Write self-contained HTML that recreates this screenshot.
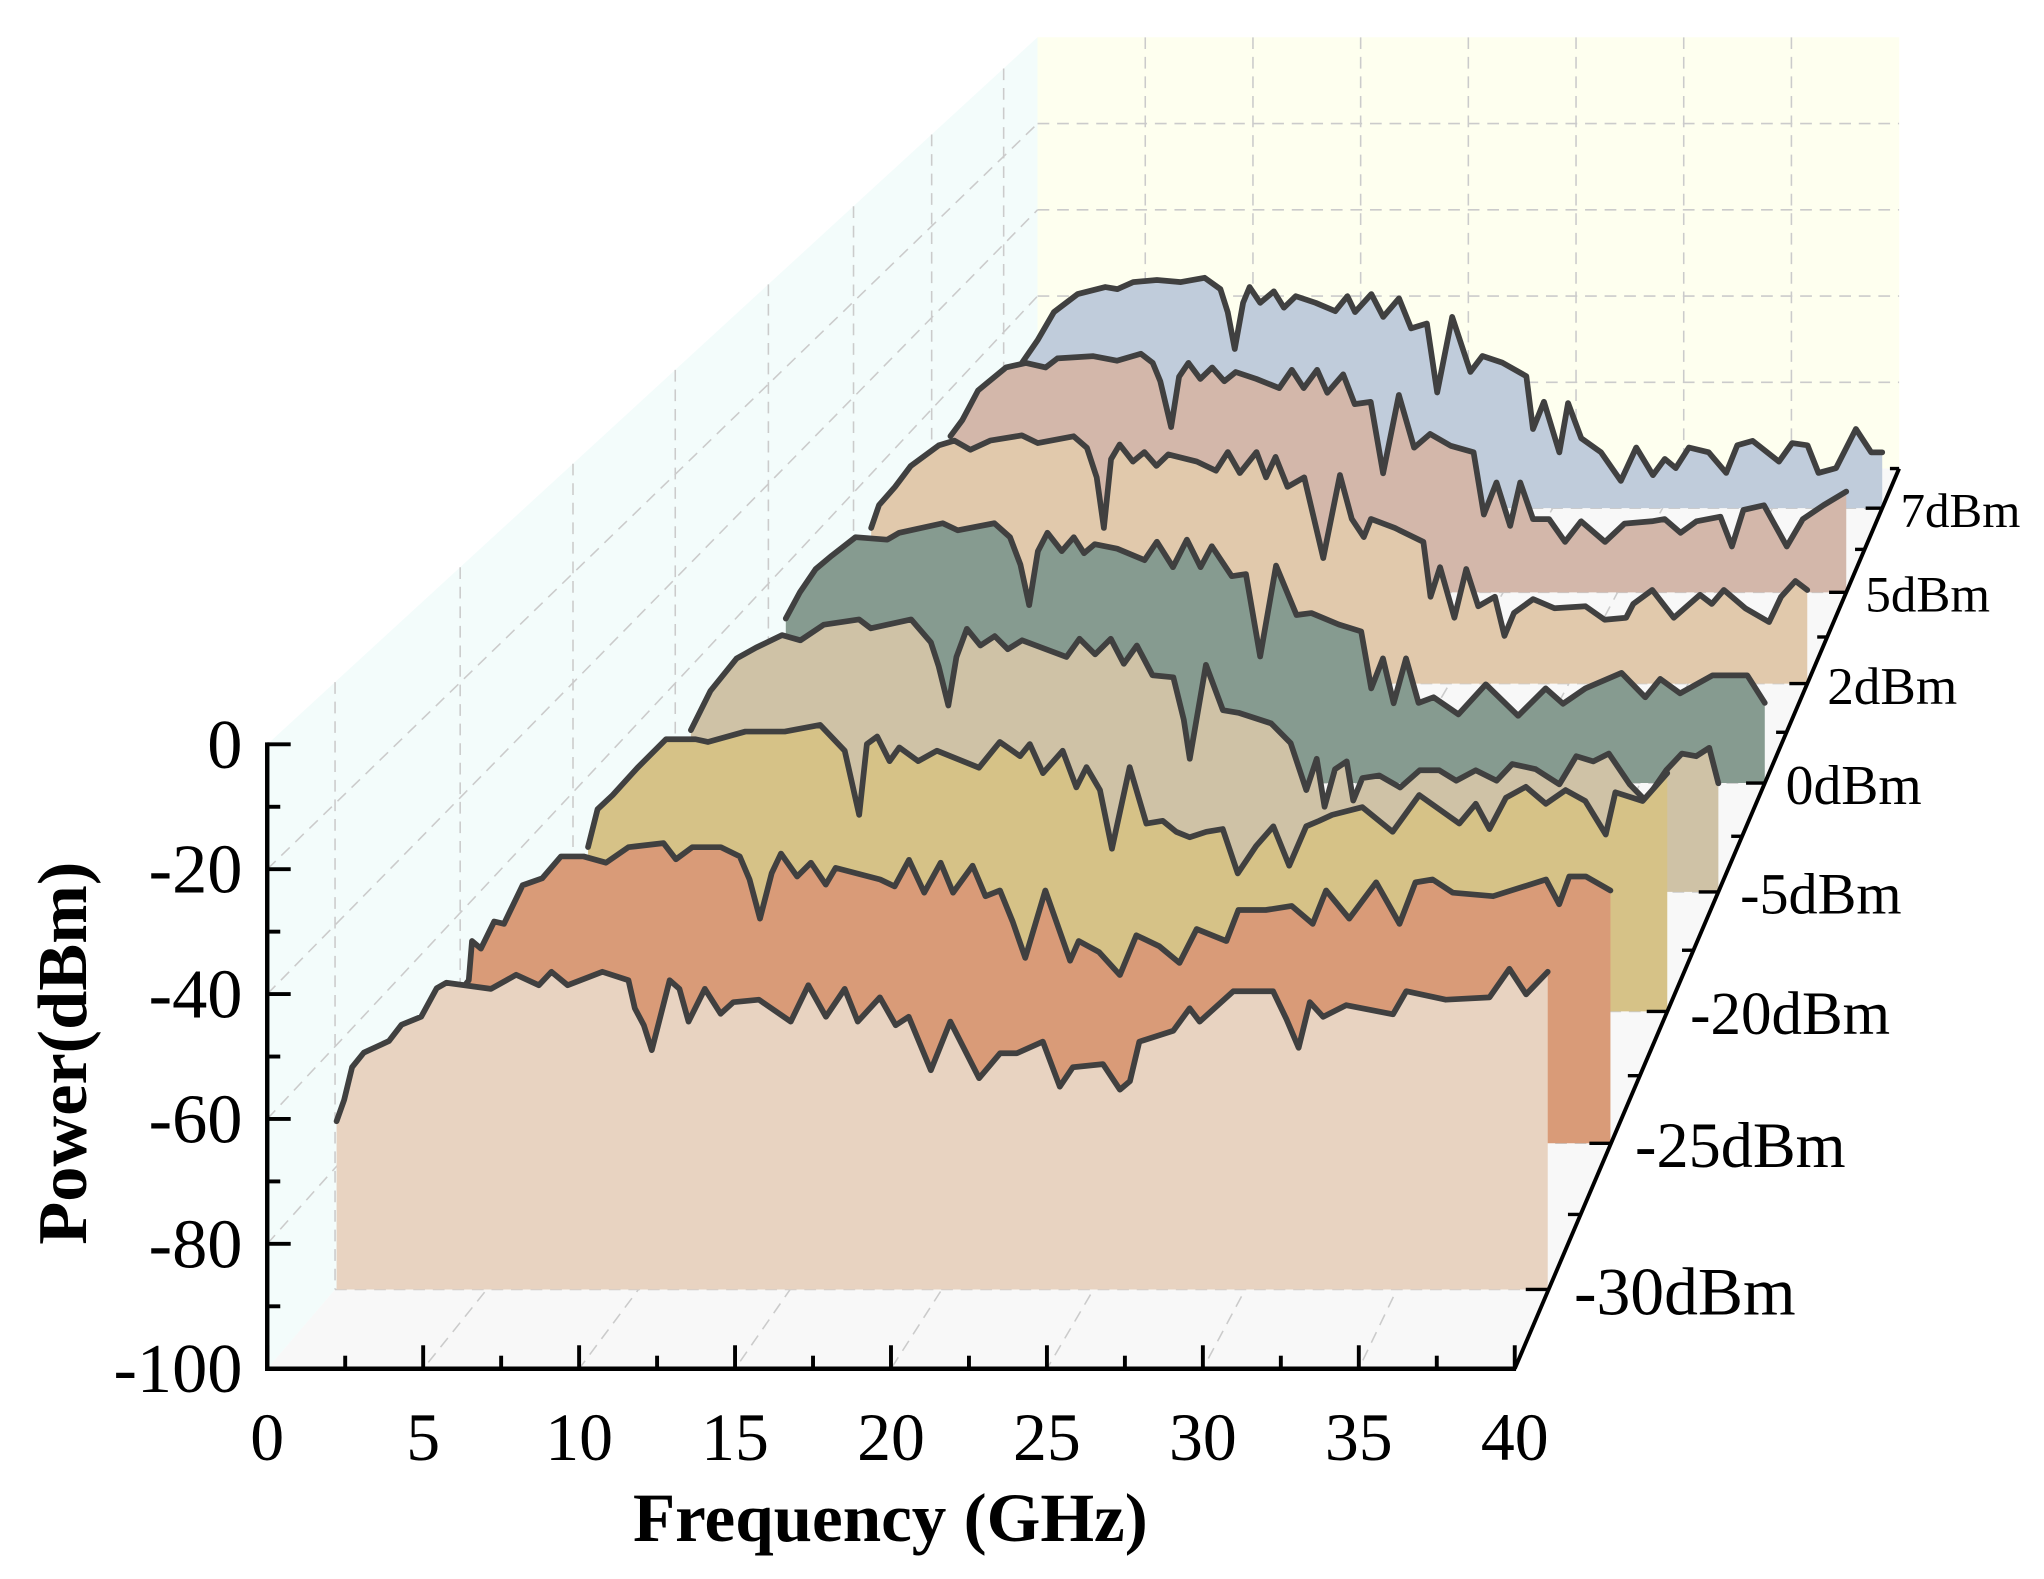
<!DOCTYPE html>
<html lang="en">
<head>
<meta charset="utf-8">
<title>Power spectra waterfall chart</title>
<style>
html,body{margin:0;padding:0;background:#fff}
svg{display:block}
text{font-family:"Liberation Serif",serif;fill:#000}
</style>
</head>
<body>
<svg id="chart" xmlns="http://www.w3.org/2000/svg" width="2044" height="1579" viewBox="0 0 1568 1211.3" preserveAspectRatio="none">
  <text x="683" y="1182" text-anchor="middle" font-size="53" font-weight="bold">Frequency (GHz)</text>
  <text transform="translate(66,808) rotate(-90)" text-anchor="middle" font-size="54" font-weight="bold">Power(dBm)</text>
</svg>
<script>
const seriesLabels = ['-30dBm','-25dBm','-20dBm','-5dBm','0dBm','2dBm','5dBm','7dBm'];
const xTickLabels = [0,5,10,15,20,25,30,35,40];
const xMinorTicks = [2.5,7.5,12.5,17.5,22.5,27.5,32.5,37.5];
const yTickLabels = [0,-20,-40,-60,-80,-100];
const yMinorTicks = [-10,-30,-50,-70,-90];

const freqM30 = [0.05,0.3,0.56,0.95,1.78,2.19,2.84,3.35,3.67,5.14,5.97,6.72,7.13,7.67,8.81,9.67,9.88,10.18,10.44,11.03,11.35,11.65,12.19,12.71,13.13,13.97,15.02,15.6,16.18,16.8,17.23,17.96,18.48,18.91,19.64,20.28,21.23,21.92,22.47,23.33,23.89,24.32,25.31,25.87,26.2,26.51,27.63,28.17,28.5,29.61,30.92,31.36,31.76,32.13,32.57,33.33,34.87,35.31,36.61,38.05,38.71,39.26,39.97];
const powerM30 = [-72.3,-68.8,-63.4,-61,-59.1,-56.4,-55.1,-50.4,-49.5,-50.5,-48.2,-49.9,-47.7,-49.9,-47.7,-49.1,-53.7,-56.5,-60.6,-49.1,-50.5,-55.9,-50.5,-54.6,-52.7,-52.3,-55.9,-49.9,-55.1,-50.5,-55.9,-51.9,-56.5,-55.1,-63.9,-55.9,-65.2,-61.1,-61.1,-59.2,-66.6,-63.4,-62.9,-67.1,-65.7,-59.2,-57.4,-53.7,-55.9,-50.9,-50.9,-55.5,-60.2,-52.7,-55.1,-53.2,-54.7,-50.9,-52.3,-51.9,-47.2,-51.4,-47.7];

const freqM25 = [0.1,0.3,0.41,0.72,1.18,1.52,2.17,2.85,3.5,4.29,5.07,5.85,7.07,7.5,8.07,9.06,9.72,10.06,10.42,10.83,11.15,11.71,12.19,12.71,13.05,14.6,15.1,15.6,16.13,16.7,17.13,17.81,18.26,18.76,19.2,19.64,20.34,21.2,21.5,22.2,22.93,23.5,24.3,25,25.6,26.63,27.05,28,28.9,29.63,30.1,30.9,31.84,32.65,33.2,33.8,34.5,35.9,37.74,38.2,38.55,39.13,39.98];
const powerM25 = [-73,-71.7,-64.9,-66.2,-61.5,-61.9,-55.2,-54,-50.2,-50.2,-51.3,-48.6,-47.9,-50.7,-48.6,-48.6,-50.2,-54.2,-61,-53.1,-49.7,-53.7,-51.3,-55.1,-52.2,-54.2,-55.4,-50.8,-56.5,-51.3,-56.5,-51.8,-57.1,-56.1,-61.5,-67.8,-56.1,-68.3,-64.9,-66.8,-70.8,-63.9,-65.8,-68.7,-62.8,-64.9,-59.5,-59.5,-58.8,-61.9,-56.1,-61,-54.7,-61.9,-54.7,-54.2,-56.5,-57.1,-54.2,-58.5,-53.7,-53.7,-56.1];

const freqM20 = [0.55,0.9,1.45,2.36,3.4,4.48,4.93,6.3,7.74,9.03,9.93,10.46,10.74,11.12,11.57,11.93,12.62,13.3,14.84,15.6,16.34,16.7,17.18,17.9,18.4,18.77,19.26,19.7,20.35,20.96,21.56,22.05,22.54,23.15,23.75,24.3,24.97,25.6,26.18,26.8,27.27,27.75,28.85,29.96,30.93,32.4,33,33.5,34.1,34.83,35.56,36.28,37,37.75,38.1,39.1,40];
const powerM20 = [-70,-63.1,-60.5,-55.5,-50.3,-50.3,-50.8,-48.9,-48.9,-47.7,-52.4,-64.1,-51.2,-49.8,-54.3,-51.8,-54.3,-52.4,-55.5,-50.8,-53.4,-51.2,-56.5,-52.4,-59.1,-55.4,-59.6,-70.3,-55.4,-65.7,-65.2,-67.2,-68.2,-67.2,-66.7,-74.8,-69.8,-66.2,-73.4,-66.2,-65.2,-64.1,-62.7,-67.2,-60.5,-65.7,-62.1,-66.7,-61,-59,-62.1,-59.6,-61.6,-67.7,-60,-61.6,-56.5];

const freqM5 = [0.6,1.35,2.35,3.1,4.1,4.8,5.7,7.05,7.5,9.05,9.8,10.1,10.47,10.78,11.18,11.7,12.25,12.75,13.3,15,15.5,16.1,16.7,17.2,17.7,18.3,19.1,19.5,19.73,20.35,21,21.6,22.85,23.6,24.2,24.6,24.9,25.3,25.75,26,26.35,27,27.8,28.55,29.3,29.95,30.7,31.5,32.1,33,33.9,34.55,35.2,35.8,36.6,37.2,38,38.6,39.15,39.65,40];
const powerM5 = [-69,-61.5,-55.3,-53.2,-50.8,-51.8,-48.8,-47.8,-49.5,-47.8,-52.2,-56.8,-64.3,-55,-49.6,-52.8,-51,-53.5,-51.8,-55,-51.5,-54.5,-51.5,-56.3,-52.8,-58.5,-58.9,-67,-74.5,-56.5,-65.2,-65.7,-67.7,-71.5,-80.5,-74.5,-83.7,-76.5,-75,-82.5,-78.2,-77.7,-80,-76.7,-76.7,-78.7,-76.7,-78.7,-75.5,-76.5,-79.4,-74,-75,-73.5,-79.4,-82.5,-76.7,-73.5,-74,-72.4,-79.2];

const freqP0 = [0.7,1.27,1.9,2.54,3.5,4.77,5.25,7,7.6,9.07,9.7,10.12,10.47,10.82,11.2,11.78,12.26,12.67,13.1,14,15.1,15.6,16.24,16.8,17.35,17.8,18.6,19.17,19.74,20.38,21.2,21.8,22.9,23.8,24.2,24.67,25.1,25.6,26.1,26.7,27.7,28.8,30.1,31.2,31.9,32.8,34.25,35.2,35.8,36.6,37.9,39.3,40];
const powerP0 = [-67,-61.7,-57.1,-54.4,-50.7,-51.2,-49.8,-47.9,-49.3,-47.9,-50.7,-56.2,-64.3,-53.5,-49.8,-53.5,-50.7,-53.9,-52.1,-53,-55.3,-51.6,-56.7,-51.2,-56.7,-52.5,-58.5,-58.1,-74.6,-56.4,-66.3,-65.9,-68.2,-69.6,-81,-75,-84,-75,-83.9,-82.8,-86.2,-80.2,-86.5,-81,-84.1,-81,-77.9,-82.8,-79.1,-82,-78.4,-78.4,-83.9];

const freqP2 = [0.74,1.07,1.74,2.4,3.57,4.23,4.9,5.73,7.06,7.73,9.23,9.79,10.2,10.5,10.8,11.16,11.72,12.2,12.7,13.2,14.4,15.2,15.7,16.2,16.9,17.3,17.7,18.2,18.9,19.7,20.4,20.9,21.4,21.7,22.7,23.9,24.2,24.6,25.2,25.7,26.2,26.9,27.3,27.7,28.5,29.4,30.7,31.5,32.4,32.7,33.5,34.4,35.5,36,36.5,37.4,38.4,38.9,39.5,40];
const powerP2 = [-67.4,-62.6,-58.8,-54.4,-50.1,-49.1,-51,-49.1,-48,-49.6,-48.2,-50.6,-56.8,-67.4,-53,-49.9,-53.5,-51.5,-54.4,-52,-53.5,-55.4,-51.5,-55.9,-51.5,-56.8,-52.5,-58.8,-56.8,-73.7,-56.3,-65.5,-69.3,-65.5,-67.4,-70.3,-81.8,-75.6,-86.2,-76,-83.8,-81.8,-90,-85.2,-82.3,-84.2,-83.8,-86.6,-86.2,-83.3,-80.4,-86.2,-81.4,-83.3,-80.4,-84.2,-87.1,-81.8,-78.5,-80.4];

const freqP5 = [0.82,1.34,2.03,3.25,4.12,4.98,5.5,7.07,8.1,9.15,9.67,10,10.47,10.82,11.23,11.75,12.27,12.8,13.3,14.2,15.2,15.75,16.27,16.86,17.3,18,18.5,19.2,19.74,20.43,21.1,21.8,22.7,23.7,24.15,24.7,25.3,25.74,26.3,27,27.7,28.4,29.45,30.3,31.5,32.06,32.75,33.45,34.5,35,35.5,36.4,37.4,38.1,39,40];
const powerP5 = [-65.9,-62.4,-55.9,-50.9,-49.9,-50.9,-48.9,-48.4,-49.4,-47.9,-49.9,-53.9,-63.9,-52.9,-49.9,-53.4,-50.9,-53.9,-51.9,-53.4,-55.4,-51.4,-55.4,-51.4,-56.4,-52.4,-58.9,-58.4,-74,-56.9,-68.4,-65.4,-68,-69.4,-83,-76,-85.5,-76,-84,-84,-89,-84.5,-89,-85,-84.5,-84,-87,-84.5,-83.5,-90,-82,-81,-90,-84,-81,-78];

const freqP7 = [0.84,1.56,2.29,3.37,4.63,5.18,5.9,6.98,8.07,9.15,9.87,10.2,10.52,10.9,11.2,11.68,12.3,12.76,13.3,14.2,15.1,15.65,16,16.74,17.28,18,18.55,19.27,19.74,20.42,21.25,21.8,22.7,23.8,24.1,24.6,25.3,25.7,26.3,27.2,28.1,28.8,29.56,30.1,30.6,31.2,32.1,32.9,33.4,34.1,35.3,35.9,36.6,37.1,37.9,38.8,39.5,40];
const powerP7 = [-66.9,-61.7,-55.4,-51.3,-49.7,-50.2,-48.6,-48.1,-48.6,-47.6,-50.2,-55.4,-63.8,-53.3,-49.7,-53.3,-50.7,-54.4,-51.8,-53.3,-55.2,-51.8,-55.4,-51.3,-56.5,-52.3,-59.1,-58,-73.7,-56.5,-69,-65.4,-66.9,-70,-82,-75.8,-87.3,-76.1,-84.1,-87.3,-93.8,-86.2,-92.5,-88.8,-90.9,-86.2,-87.3,-92,-85.7,-84.7,-89.4,-85.2,-85.7,-92,-90.9,-82,-87.3,-87.3];

const seriesFreqs = [freqM30,freqM25,freqM20,freqM5,freqP0,freqP2,freqP5,freqP7];
const seriesPowers = [powerM30,powerM25,powerM20,powerM5,powerP0,powerP2,powerP5,powerP7];

const fillColors = ['#e8d3c1','#d99b78','#d6c287','#cfc2a6','#869b90','#e1c9ac','#d3b7aa','#c0ccdb'];
const VX = 2115, VY = -1182, LEFT = 205, RIGHT = 1162, TOP = 571, BOTTOM = 1050;
const NS = 'http://www.w3.org/2000/svg';
const svg = document.getElementById('chart');
const firstStatic = svg.firstElementChild;

function depthScale(z){ return 1/(1+0.056*(z+0.5)); }
function xScale(f){ return LEFT+(RIGHT-LEFT)*f/40; }
function yScale(p){ return TOP+(BOTTOM-TOP)*(-p)/100; }
function project(f,p,z){
  const s = depthScale(z);
  return [VX+s*(xScale(f)-VX), VY+s*(yScale(p)-VY)];
}
function make(tag,attrs){
  const e = document.createElementNS(NS,tag);
  for(const k in attrs) e.setAttribute(k,attrs[k]);
  svg.insertBefore(e,firstStatic);
  return e;
}
function pts(list){ return list.map(q=>q[0].toFixed(1)+','+q[1].toFixed(1)).join(' '); }
const dashStyle = {stroke:'#cbcbcb','stroke-width':1.2,'stroke-dasharray':'9 6',fill:'none'};
function gridLine(a,b){
  return make('line',Object.assign({x1:a[0],y1:a[1],x2:b[0],y2:b[1]},dashStyle));
}
function inkLine(a,b,w){
  return make('line',{x1:a[0],y1:a[1],x2:b[0],y2:b[1],stroke:'#000','stroke-width':w,'stroke-linecap':'butt'});
}
const Z0 = -0.5, Z1 = 7.5;

const leftWall = make('polygon',{points:pts([project(0,-100,Z0),project(0,0,Z0),project(0,0,Z1),project(0,-100,Z1)]),fill:'#f3fcfb'});


const backWall = make('polygon',{points:pts([project(0,0,Z1),project(40,0,Z1),project(40,-100,Z1),project(0,-100,Z1)]),fill:'#feffef'});


const floorPlane = make('polygon',{points:pts([project(0,-100,Z0),project(40,-100,Z0),project(40,-100,Z1),project(0,-100,Z1)]),fill:'#f8f8f8'});



xTickLabels.slice(1,-1).forEach(function(f){
  const g1 = gridLine(project(f,0,Z1),project(f,-100,Z1));
  
  
  const g2 = gridLine(project(f,-100,Z1),project(f,-100,Z0));
  
  
});
yTickLabels.slice(1,-1).forEach(function(p){
  const g1 = gridLine(project(0,p,Z1),project(40,p,Z1));
  
  
  const g2 = gridLine(project(0,p,Z0),project(0,p,Z1));
  
  
});
seriesLabels.forEach(function(label,z){
  const g1 = gridLine(project(0,0,z),project(0,-100,z));
  
  
  const g2 = gridLine(project(0,-100,z),project(40,-100,z));
  
  
});

for(let z=seriesLabels.length-1;z>=0;z--){
  const fr = seriesFreqs[z], pw = seriesPowers[z];
  const curve = fr.map(function(f,k){ return project(f,pw[k],z); });
  const area = curve.concat([project(fr[fr.length-1],-100,z),project(fr[0],-100,z)]);
  const fillShape = make('polygon',{points:pts(area),fill:fillColors[z]});
  
  
  const lineShape = make('polyline',{points:pts(curve),fill:'none',stroke:'#404040','stroke-width':4.4,'stroke-linejoin':'round','stroke-linecap':'round'});
  
  
}

const yAxisLine = inkLine([LEFT,TOP-1.5],[LEFT,BOTTOM+1.7],3.4);


const xAxisLine = inkLine([LEFT,BOTTOM],[RIGHT+1,BOTTOM],3.4);


const depthAxisLine = inkLine(project(40,-100,Z0),project(40,-100,Z1),3);



yTickLabels.forEach(function(p){
  const y = yScale(p);
  const tick = inkLine([LEFT,y],[LEFT+18,y],3);
  
  
  const label = make('text',{x:186,y:y+18,'text-anchor':'end','font-size':54});
  label.textContent = p;
  
  
});
yMinorTicks.forEach(function(p){
  const y = yScale(p);
  const tick = inkLine([LEFT,y],[LEFT+10,y],3);
  
  
});
xTickLabels.forEach(function(f){
  const x = xScale(f);
  const tick = inkLine([x,BOTTOM],[x,BOTTOM-18],3);
  
  
  const label = make('text',{x:x,y:1120,'text-anchor':'middle','font-size':52});
  label.textContent = f;
  
  
});
xMinorTicks.forEach(function(f){
  const x = xScale(f);
  const tick = inkLine([x,BOTTOM],[x,BOTTOM-10],3);
  
  
});
seriesLabels.forEach(function(text,z){
  const s = depthScale(z);
  const p = project(40,-100,z);
  const tick = inkLine([p[0],p[1]],[p[0]-18*s,p[1]],2.6);
  
  
  const m = project(40,-100,z+0.5);
  const minor = inkLine([m[0],m[1]],[m[0]-10*s,m[1]],2.6);
  
  
  const fs = 53.4*s;
  const label = make('text',{x:p[0]+20*s,y:p[1]+2+fs*0.33,'font-size':fs.toFixed(1)});
  label.textContent = text;
  
  
});
</script>
</body>
</html>
